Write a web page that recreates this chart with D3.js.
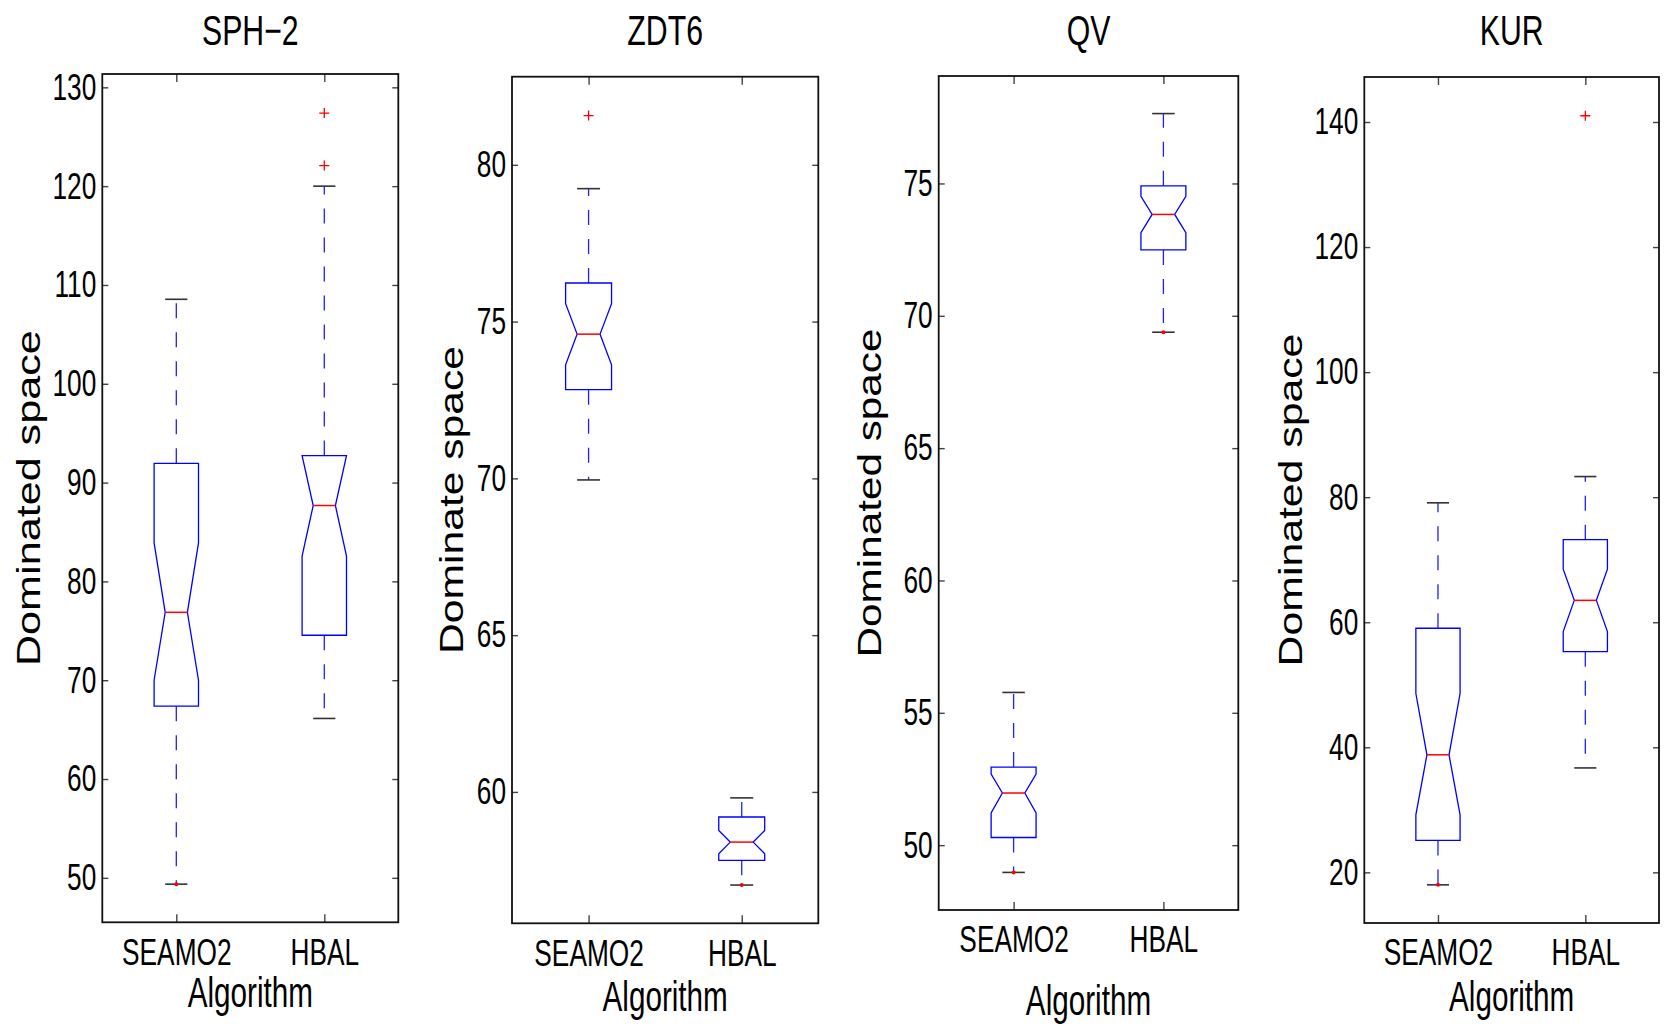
<!DOCTYPE html>
<html>
<head>
<meta charset="utf-8">
<script src="https://cdn.jsdelivr.net/npm/d3@7"></script>
<style>
  html, body { margin: 0; padding: 0; background: #fff; }
  svg { display: block; }
  text { font-family: "Liberation Sans", Arial, Helvetica, sans-serif; fill: #000; }
</style>
</head>
<body>
<svg id="chart" width="1665" height="1026"></svg>
<script>
// ---------------- DATA ----------------
const problems = ["SPH\u22122", "ZDT6", "QV", "KUR"];
const algorithms = ["SEAMO2", "HBAL"];
const yLabels = ["Dominated space", "Dominate space", "Dominated space", "Dominated space"];
const xLabel = "Algorithm";

// box stats per problem, per algorithm: [lowerWhisker, q1, notchLow, median, notchHigh, q3, upperWhisker]
const statsSPH2 = [
  [49.36, 67.37, 70.0, 76.87, 83.9, 91.95, 108.55],
  [66.13, 74.55, 82.56, 87.68, 92.73, 92.73, 120.0]
];
const statsZDT6 = [
  [69.95, 72.83, 73.62, 74.6, 75.57, 76.23, 79.24],
  [57.03, 57.82, 58.03, 58.4, 58.77, 59.2, 59.81]
];
const statsQV = [
  [48.97, 50.29, 51.22, 51.97, 52.69, 52.95, 55.77],
  [69.38, 72.49, 73.14, 73.83, 74.51, 74.91, 77.64]
];
const statsKUR = [
  [18.0, 25.1, 29.2, 38.8, 48.6, 59.04, 79.1],
  [36.7, 55.3, 58.5, 63.5, 68.5, 73.2, 83.3]
];

// outliers ('+') per problem, per algorithm
const outliersSPH2 = [[], [122.08, 127.4]];
const outliersZDT6 = [[81.57], []];
const outliersQV   = [[], []];
const outliersKUR  = [[], [141.0]];

// small red dots at whisker ends, per problem, per algorithm
const dotsSPH2 = [[49.36], []];
const dotsZDT6 = [[], [57.03]];
const dotsQV   = [[48.97], [69.38]];
const dotsKUR  = [[18.0], []];

// y-axis ranges and tick labels
const yDomains = [[45.5, 131.35], [55.81, 82.81], [47.55, 79.06], [11.9, 147.2]];
const ticksSPH2 = [50, 60, 70, 80, 90, 100, 110, 120, 130];
const ticksZDT6 = [60, 65, 70, 75, 80];
const ticksQV   = [50, 55, 60, 65, 70, 75];
const ticksKUR  = [20, 40, 60, 80, 100, 120, 140];

const allStats = [statsSPH2, statsZDT6, statsQV, statsKUR];
const allOutliers = [outliersSPH2, outliersZDT6, outliersQV, outliersKUR];
const allDots = [dotsSPH2, dotsZDT6, dotsQV, dotsKUR];
const allTicks = [ticksSPH2, ticksZDT6, ticksQV, ticksKUR];

// ---------------- LAYOUT ----------------
// axes boxes [left, top, right, bottom]
const axesBoxes = [
  [102.3, 74, 398.3, 922.3],
  [512, 76.7, 818.3, 923.3],
  [938.7, 76, 1238.3, 910],
  [1364.3, 77, 1659, 923]
];
const yLabelX = [40, 462.7, 880.7, 1301.7];
const yLabelLen = [336, 308, 329, 333];
const xLabelOffset = [85, 87.4, 104.5, 87.7];
const condense = 0.71;

const svg = d3.select("#chart");

function squeeze(sel, k) {
  sel.each(function() {
    const x = +this.getAttribute("x") || 0;
    const y = +this.getAttribute("y") || 0;
    this.setAttribute("x", 0);
    this.setAttribute("y", 0);
    this.setAttribute("transform", `translate(${x},${y}) scale(${k},1)`);
  });
}

problems.forEach((name, p) => {
  const [L, T, R, B] = axesBoxes[p];
  const g = svg.append("g");
  const x = d3.scaleLinear().domain([0.5, 2.5]).range([L, R]);
  const y = d3.scaleLinear().domain(yDomains[p]).range([B, T]);

  // ticks (inward, mirrored)
  const yTickLen = 6, xTickLen = 8;
  const left = g.append("g").attr("transform", `translate(${L},0)`)
    .call(d3.axisLeft(y).tickValues(allTicks[p]).tickSizeInner(-yTickLen).tickSizeOuter(0).tickPadding(6));
  const right = g.append("g").attr("transform", `translate(${R},0)`)
    .call(d3.axisRight(y).tickValues(allTicks[p]).tickSizeInner(-yTickLen).tickSizeOuter(0).tickFormat(""));
  const bottom = g.append("g").attr("transform", `translate(0,${B})`)
    .call(d3.axisBottom(x).tickValues([1, 2]).tickFormat(i => algorithms[i - 1]).tickSizeInner(-xTickLen).tickSizeOuter(0).tickPadding(16));
  const top = g.append("g").attr("transform", `translate(0,${T})`)
    .call(d3.axisTop(x).tickValues([1, 2]).tickSizeInner(-xTickLen).tickSizeOuter(0).tickFormat(""));
  [left, right, bottom, top].forEach(a => {
    a.select(".domain").remove();
    a.selectAll(".tick line").attr("stroke", "#444").attr("stroke-width", 1.4);
  });
  left.selectAll(".tick text").attr("font-size", 37).attr("fill", "#000")
    .attr("font-family", "'Liberation Sans', Arial, sans-serif");
  squeeze(left.selectAll(".tick text"), condense);
  bottom.selectAll(".tick text").attr("font-size", 37).attr("fill", "#000")
    .attr("font-family", "'Liberation Sans', Arial, sans-serif");
  squeeze(bottom.selectAll(".tick text"), condense);

  // frame
  g.append("rect").attr("x", L).attr("y", T).attr("width", R - L).attr("height", B - T)
    .attr("fill", "none").attr("stroke", "#111").attr("stroke-width", 1.8);

  // boxes
  const hw = x(1.15) - x(1);      // box half width
  const nw = hw / 2;               // notch half width / cap half width
  allStats[p].forEach((s, i) => {
    const [lw, q1, nlo, med, nhi, q3, uw] = s;
    const cx = x(i + 1);
    const bg = g.append("g");
    // whiskers
    bg.append("line").attr("x1", cx).attr("x2", cx).attr("y1", y(q3)).attr("y2", y(uw))
      .attr("stroke", "#2020ff").attr("stroke-width", 1.3).attr("stroke-dasharray", "15,14");
    bg.append("line").attr("x1", cx).attr("x2", cx).attr("y1", y(q1)).attr("y2", y(lw))
      .attr("stroke", "#2020ff").attr("stroke-width", 1.3).attr("stroke-dasharray", "15,14");
    // caps
    [lw, uw].forEach(v => {
      bg.append("line").attr("x1", cx - nw).attr("x2", cx + nw).attr("y1", y(v)).attr("y2", y(v))
        .attr("stroke", "#333").attr("stroke-width", 1.6);
    });
    // notched box
    const pts = [
      [cx - hw, y(q3)], [cx + hw, y(q3)], [cx + hw, y(nhi)], [cx + nw, y(med)],
      [cx + hw, y(nlo)], [cx + hw, y(q1)], [cx - hw, y(q1)], [cx - hw, y(nlo)],
      [cx - nw, y(med)], [cx - hw, y(nhi)]
    ];
    bg.append("path").attr("d", d3.line()(pts) + "Z")
      .attr("fill", "none").attr("stroke", "#0000ff").attr("stroke-width", 1.3);
    // median
    bg.append("line").attr("x1", cx - nw).attr("x2", cx + nw).attr("y1", y(med)).attr("y2", y(med))
      .attr("stroke", "#ff0000").attr("stroke-width", 1.5);
    // outliers
    allOutliers[p][i].forEach(v => {
      const oy = y(v), os = 5;
      bg.append("path").attr("d", `M${cx - os},${oy}H${cx + os}M${cx},${oy - os}V${oy + os}`)
        .attr("stroke", "#ff0000").attr("stroke-width", 1.3).attr("fill", "none");
    });
    // dots
    allDots[p][i].forEach(v => {
      bg.append("circle").attr("cx", cx).attr("cy", y(v)).attr("r", 2).attr("fill", "#ff0000");
    });
  });

  // title
  const cxAxes = (L + R) / 2;
  g.append("text").attr("x", cxAxes).attr("y", 44.5).attr("text-anchor", "middle")
    .attr("font-size", 42).text(name).call(squeeze, 0.72);

  // x label
  g.append("text").attr("x", cxAxes).attr("y", B + xLabelOffset[p]).attr("text-anchor", "middle")
    .attr("font-size", 43).text(xLabel).call(squeeze, 0.69);

  // y label
  const yl = g.append("text").attr("text-anchor", "middle").attr("font-size", 34).text(yLabels[p]);
  const nat = yl.node().getComputedTextLength();
  yl.attr("transform", `translate(${yLabelX[p]},${(T + B) / 2}) rotate(-90) scale(${yLabelLen[p] / nat},1)`);
});
</script>
</body>
</html>
